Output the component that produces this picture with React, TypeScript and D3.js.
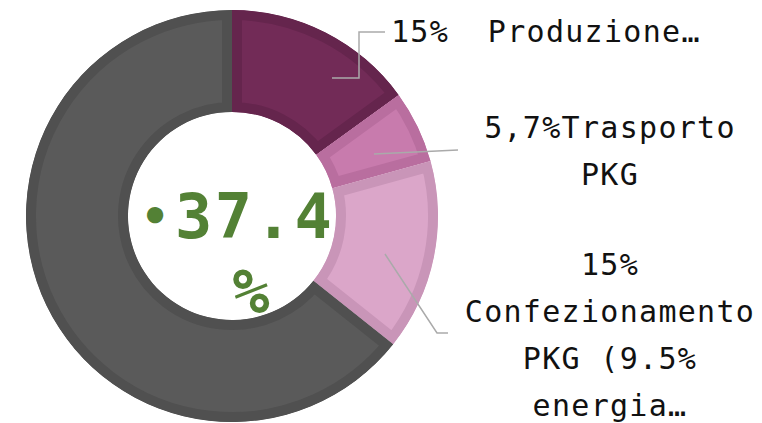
import React, { useEffect, useRef } from "react";
import * as d3 from "d3";

// slice data (percent of total)
const categories = ["Produzione", "Trasporto PKG", "Confezionamento PKG", "Altro"];
const values = [15, 5.7, 15, 64.3];
const fills = ["#722b57", "#c87bad", "#dba6c9", "#5a5a5a"];
const borders = ["#65254d", "#b96e9f", "#c995b8", "#505050"];

// label lines
const labelLines = [
  ["15%  Produzione…"],
  ["5,7%Trasporto", "PKG"],
  ["15%", "Confezionamento", "PKG (9.5%", "energia…"],
];
const centerBullet = "•";
const centerValue = "37.4";
const centerUnit = "%";

const width = 762;
const height = 423;

export default function App() {
  const ref = useRef<SVGSVGElement>(null);

  useEffect(() => {
    document.body.style.margin = "0";
    const svg = d3.select(ref.current);
    svg.selectAll("*").remove();

    const cx = 232;
    const cy = 216;
    const outerR = 206;
    const innerR = 104;

    const pie = d3.pie<number>().sort(null).value(d => d);
    const arcs = pie(values);
    const arcGen = d3.arc<d3.PieArcDatum<number>>().innerRadius(innerR).outerRadius(outerR);

    const defs = svg.append("defs");
    const g = svg.append("g").attr("transform", `translate(${cx},${cy})`);

    arcs.forEach((a, i) => {
      defs.append("clipPath").attr("id", `clip${i}`)
        .append("path").attr("d", arcGen(a) as string);
      g.append("path")
        .attr("d", arcGen(a) as string)
        .attr("fill", fills[i])
        .attr("stroke", borders[i])
        .attr("stroke-width", 20)
        .attr("clip-path", `url(#clip${i})`);
    });

    // leader lines
    const leaders = [
      [[332, 78], [359, 78], [359, 32], [385, 32]],
      [[374, 154], [458, 150]],
      [[385, 254], [437, 333], [448, 333]],
    ];
    leaders.forEach(pts => {
      svg.append("path")
        .attr("d", d3.line()(pts as [number, number][]) as string)
        .attr("fill", "none")
        .attr("stroke", "#aaaaaa")
        .attr("stroke-width", 1.5);
    });

    const font = "'DejaVu Sans Mono', 'Liberation Mono', monospace";

    // label 1 (left-aligned single line)
    svg.append("text")
      .attr("x", 391).attr("y", 42)
      .attr("font-family", font).attr("font-size", 30)
      .attr("letter-spacing", 1.3)
      .style("white-space", "pre")
      .attr("fill", "#111")
      .text(labelLines[0][0]);

    const lineH = 47;
    const blocks = [
      { x: 610, y: 138, lines: labelLines[1] },
      { x: 610, y: 275, lines: labelLines[2] },
    ];
    blocks.forEach(b => {
      b.lines.forEach((t, j) => {
        svg.append("text")
          .attr("x", b.x).attr("y", b.y + j * lineH)
          .attr("text-anchor", "middle")
          .attr("font-family", font).attr("font-size", 30)
          .attr("letter-spacing", 1.3)
          .attr("fill", "#111")
          .text(t);
      });
    });

    // center value
    svg.append("text")
      .attr("x", 155).attr("y", 232)
      .attr("text-anchor", "middle")
      .attr("font-family", font).attr("font-size", 46).attr("font-weight", "bold")
      .attr("fill", "#538135")
      .text(centerBullet);
    svg.append("text")
      .attr("x", 175).attr("y", 238)
      .attr("font-family", font).attr("font-size", 62).attr("font-weight", "bold")
      .attr("letter-spacing", 2.5)
      .attr("fill", "#538135")
      .text(centerValue);
    svg.append("text")
      .attr("x", 251).attr("y", 313)
      .attr("text-anchor", "middle")
      .attr("font-family", font).attr("font-size", 62).attr("font-weight", "bold")
      .attr("fill", "#538135")
      .text(centerUnit);
  }, []);

  return <svg ref={ref} width={width} height={height} style={{ display: "block" }} />;
}
